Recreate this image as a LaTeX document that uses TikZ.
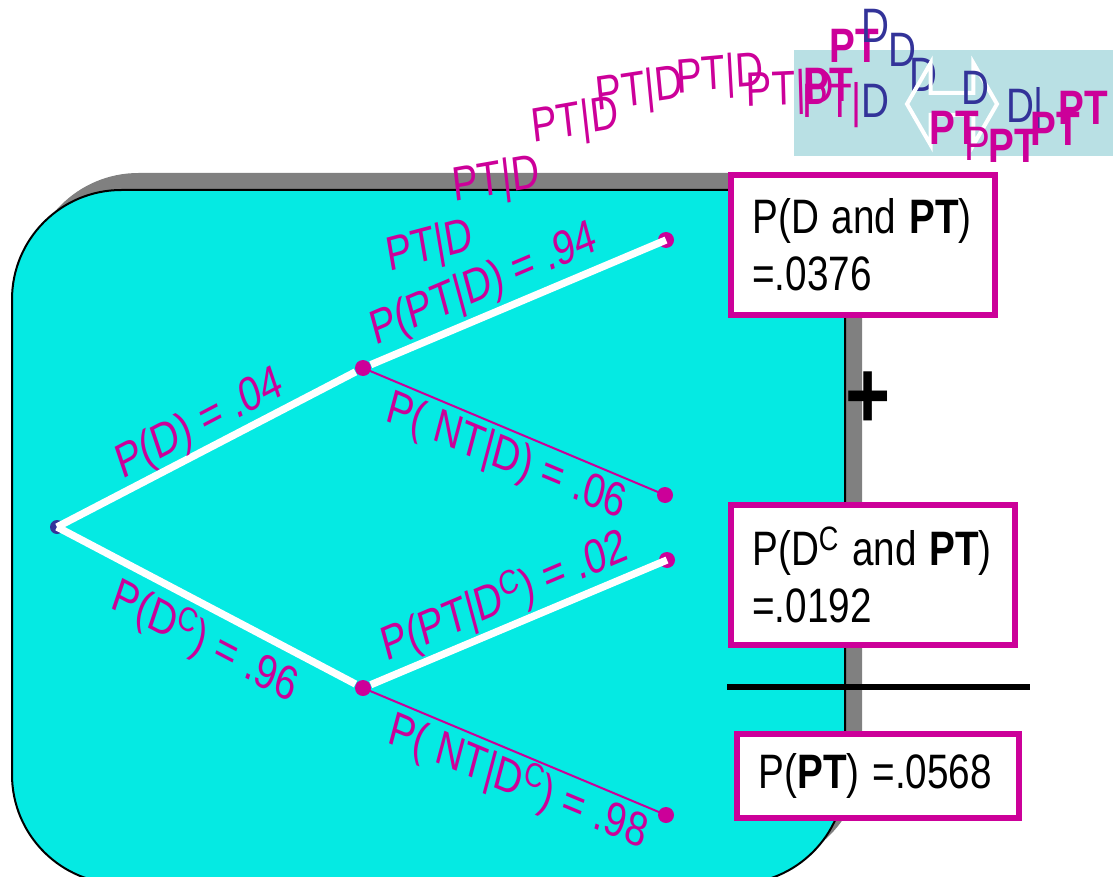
\documentclass[tikz,border=0pt]{standalone}
\usepackage{fontspec}
\setmainfont{Liberation Sans}
\usetikzlibrary{shapes.arrows}

\definecolor{pmag}{RGB}{204,0,153}
\definecolor{pcyan}{RGB}{5,234,227}
\definecolor{pblue}{RGB}{51,51,153}
\definecolor{plight}{RGB}{185,224,228}
\definecolor{pgray}{RGB}{128,128,128}

\tikzset{every picture/.style={line width=0.75pt},
  slide/.style={transform shape, yscale=-1.25, inner sep=0pt, font=\fontsize{29}{34}\selectfont},
  prob/.style={slide, text=pmag},
  trailb/.style={slide, text=pmag, font=\fontsize{29}{34}\selectfont\bfseries},
  traild/.style={slide, text=pblue},
  resbox/.style={slide, draw=pmag, line width=4.5pt, fill=white, align=left, inner xsep=16pt, text=black},
  dotm/.style={circle, fill=pmag, inner sep=0pt, minimum size=12pt},
  dotb/.style={circle, fill=pblue, inner sep=0pt, minimum size=10.5pt},
  branch/.style={draw=white, line width=5.5pt},
  twig/.style={draw=pmag, line width=1.5pt}
}

\begin{document}
\begin{tikzpicture}[x=0.75pt,y=0.75pt,yscale=-1,xscale=1]
\clip (0,0) rectangle (1113,877);

% Panel
\fill[plight] (794,50) rectangle (1113,156);
\fill[pgray, rounded corners=82pt] (29,173) rectangle (862,867);
\filldraw[fill=pcyan, draw=black, line width=1.5pt, rounded corners=82pt] (12,190) rectangle (845,884);

% Tree points
\node[dotb] (root) at (57,527) {};
\node[dotm] (nD) at (363,368) {};
\node[dotm] (nDc) at (363,688) {};
\node[dotm] (pD) at (666,240) {};
\node[dotm] (qD) at (665,495) {};
\node[dotm] (pDc) at (667,560) {};
\node[dotm] (qDc) at (666,815) {};

% Branches
\draw[branch] (root.center) -- (nD);
\draw[branch] (root.center) -- (nDc);
\draw[branch] (nD) -- (pD.center);
\draw[twig] (nD.center) -- (qD.center);
\draw[branch] (nDc) -- (pDc.center);
\draw[twig] (nDc.center) -- (qDc.center);

% Branch labels
\node[prob, rotate=22.8] (lD) at (200,425) {P(D) = .04};
\node[prob, rotate=-22.8] (lDc) at (205,642) {P(D\textsuperscript{C}) = .96};
\node[prob, rotate=18.7] (lPD) at (484,286) {P(PT|D) = .94};
\node[prob, rotate=-18.4] (lND) at (506,458) {P( NT|D) = .06};
\node[prob, rotate=18.7] (lPDc) at (505,597) {P(PT|D\textsuperscript{C}) = .02};
\node[prob, rotate=-18.4] (lNDc) at (518,782) {P( NT|D\textsuperscript{C}) = .98};

% Trail
\node[prob, rotate=12] (tr1) at (430,248) {PT|D};
\node[prob, rotate=8] (tr2) at (496,182) {PT|D};
\node[prob, rotate=8] (tr3) at (575,123) {PT|D};
\node[prob, rotate=7] (tr4) at (640,92) {PT|D};
\node[prob, rotate=4] (tr5) at (720,77) {PT|D};
\node[prob, rotate=2] (tr6) at (790,92) {PT|D};
\node[prob] (tr7) at (846,105) {PT|\textcolor{pblue}{D}};
\node[trailb] (tb1) at (828,85) {PT};
\node[trailb] (tb2) at (854,46) {PT};
\node[traild] (td1) at (875,26) {D};
\node[traild] (td2) at (902,50) {D};
\node[traild] (td3) at (923,75) {D};
\node[double arrow, draw=white, line width=3pt, minimum height=67.5pt, inner xsep=0pt, inner ysep=6.75pt,
  double arrow head extend=22.5pt, double arrow tip angle=120] (swap) at (952,104) {};
\node[traild] (td4) at (975,88) {D};
\node[traild] (td5) at (1025,110) {D|};
\node[trailb] (tb3) at (954,128) {PT};
\node[prob] (tp1) at (977,144) {P};
\node[trailb] (tb4) at (1013,146) {PT};
\node[trailb] (tb5) at (1055,129) {PT};
\node[trailb] (tb6) at (1083,108) {PT};

% Results
\node[resbox, text width=166pt, minimum height=84pt] (bD) at (863,245) {P(D and \textbf{PT})\\=.0376};
\node[resbox, text width=181pt, minimum height=84pt] (bDc) at (873,575) {P(D\textsuperscript{C} and \textbf{PT})\\=.0192};
\node[resbox, text width=179pt, minimum height=50pt] (bPT) at (878,776) {P(\textbf{PT}) =.0568};
\node[slide, font=\fontsize{58}{60}\selectfont\bfseries] (plus) at (868,400) {+};
\coordinate (sumL) at (727,687);
\coordinate (sumR) at (1030,687);
\draw[line width=4.5pt] (sumL) -- (sumR);

\end{tikzpicture}
\end{document}
